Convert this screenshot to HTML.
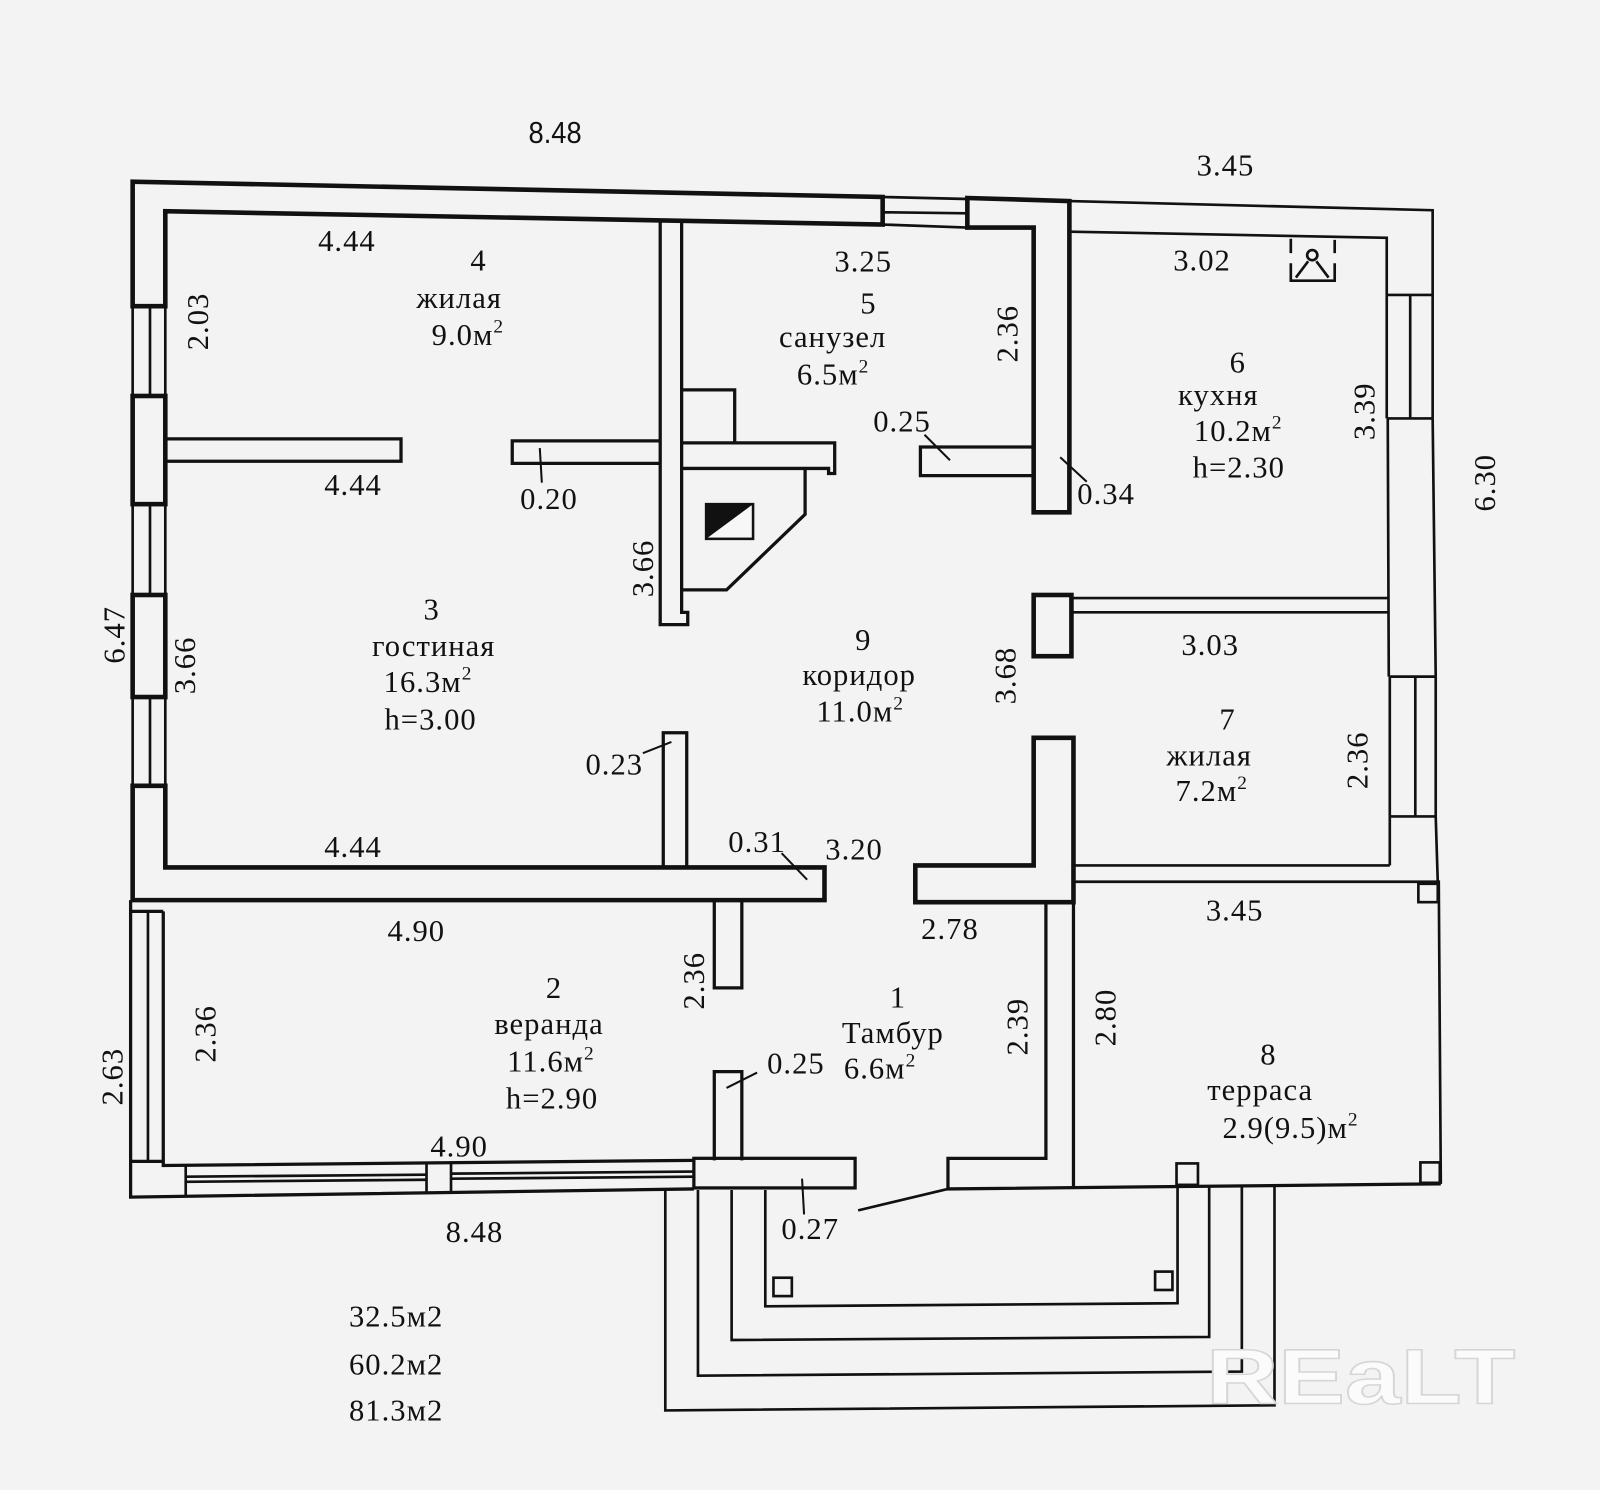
<!DOCTYPE html>
<html><head><meta charset="utf-8">
<style>
html,body{margin:0;padding:0;background:#f3f3f3;}
svg{display:block}
text{font-family:"Liberation Serif","DejaVu Serif",serif;font-size:30px;fill:#111;letter-spacing:1px}
</style></head><body>
<svg width="1600" height="1490" viewBox="0 0 1568 1460" preserveAspectRatio="none" xmlns="http://www.w3.org/2000/svg">
<rect width="1568" height="1460" fill="#f3f3f3"/>

<!-- thick walls -->
<g fill="none" stroke="#111" stroke-width="4.5" stroke-linejoin="miter">
  <path d="M130,300 L130,178 L865,193 L865,220 L162,207 L162,300 Z"/>
  <path d="M948,194 L1048,197 L1048,502 L1013,502 L1013,223 L948,223 Z"/>
  <rect x="130" y="388" width="32" height="106"/>
  <rect x="130" y="583" width="32" height="100"/>
  <path d="M130,770 L162,770 L162,850 L808,850 L808,882 L130,882 Z"/>
  <rect x="1013" y="583" width="37" height="60"/>
  <path d="M1013,723 L1052,723 L1052,884 L897,884 L897,848 L1013,848 Z"/>
</g>

<!-- medium walls / partitions -->
<g fill="none" stroke="#111" stroke-width="3.2" stroke-linejoin="miter">
  <path d="M647,217 L647,612 L674,612 L674,600 L668,600 L668,217"/>
  <path d="M162,430 L393,430 L393,452 L162,452"/>
  <path d="M647,432 L502,432 L502,454 L647,454"/>
  <path d="M1013,438 L902,438 L902,466 L1013,466"/>
  <path d="M668,382 L720,382 L720,434"/>
  <path d="M668,434 L818,434 L818,464 L812,464 L812,459 L668,459"/>
  <path d="M789,459 L789,504 L712,578 L668,578"/>
  <path d="M650,850 L650,718 L673,718 L673,850"/>
  <path d="M700,882 L700,968 L727,968 L727,882"/>
  <path d="M700,1137 L700,1050 L727,1050 L727,1137"/>
  <rect x="680" y="1135" width="158" height="29"/>
  <path d="M1025,884 L1025,1135 L929,1135 L929,1165 L1412,1160"/>
  <path d="M1052,864 L1052,1163"/>
  <!-- veranda -->
  <path d="M128,882 L128,1173 L680,1165"/>
  <path d="M160,893 L160,1142 L680,1137"/>
  <path d="M128,893 L160,893 M128,1138 L160,1138"/>
</g>

<!-- icon -->
<rect x="692" y="494" width="46" height="34" fill="#f7f7f7" stroke="#111" stroke-width="2.5"/>
<polygon points="692,494 738,494 692,528" fill="#111"/>

<!-- thin lines -->
<g fill="none" stroke="#111" stroke-width="2.6">
  <!-- top window -->
  <path d="M865,193 L948,195 M865,208 L948,209 M865,220 L948,223"/>
  <!-- left windows -->
  <path d="M147,300 L147,388 M147,494 L147,583 M147,683 L147,770"/>
  <path d="M130,300 L130,388 M162,300 L162,388"/>
  <path d="M130,494 L130,583 M162,494 L162,583 M130,683 L130,770 M162,683 L162,770"/>
  <!-- veranda windows -->
  <path d="M145,893 L145,1138"/>
  <path d="M182,1142 L182,1172"/>
  <path d="M182,1153 L418,1151 M182,1158 L418,1156 M442,1150 L680,1148 M442,1155 L680,1153"/>
  <path d="M418,1141 L418,1170 M442,1140 L442,1169"/>
  <!-- kitchen -->
  <path d="M1048,197 L1404,206 L1404,289"/>
  <path d="M1048,227 L1359,233 L1359,289"/>
  <path d="M1359,289 L1404,289 M1382,289 L1382,410 M1359,289 L1359,410 M1404,289 L1404,410 M1359,410 L1404,410"/>
  <path d="M1404,410 L1407,663 M1360,410 L1361,663 M1361,663 L1407,663"/>
  <path d="M1362,663 L1362,800 M1387,663 L1387,800 M1407,663 L1407,800 M1362,800 L1407,800"/>
  <path d="M1407,800 L1409,864 M1362,800 L1362,848"/>
  <path d="M1050,586 L1361,586 M1050,600 L1361,600"/>
  <path d="M1050,848 L1362,848"/>
  <!-- terrace -->
  <path d="M1052,864 L1410,864 L1412,1160"/>
  <rect x="1390" y="866" width="19" height="18"/>
  <rect x="1392" y="1139" width="19" height="20"/>
  <rect x="1153" y="1140" width="21" height="21"/>
  <!-- porch -->
  <path d="M652,1166 L652,1382 L1249,1377 L1249,1162"/>
  <path d="M684,1166 L684,1348 L1217,1344 L1217,1162"/>
  <path d="M717,1166 L717,1313 L1185,1310 L1185,1162"/>
  <path d="M750,1166 L750,1280 L1154,1277 L1154,1162"/>
  <rect x="758" y="1252" width="18" height="18"/>
  <rect x="1132" y="1246" width="17" height="18"/>
  <path d="M841,1186 L929,1165"/>
  <!-- kitchen stove symbol -->
  <path d="M1265,234 L1265,248 M1265,258 L1265,275 L1308,275 L1308,258 M1308,248 L1308,235"/>
  <circle cx="1286" cy="250" r="5"/>
  <path d="M1270,272 L1282,256 M1302,272 L1290,256"/>
</g>

<!-- leaders -->
<g fill="none" stroke="#111" stroke-width="2">
  <path d="M529,439 L531,473"/>
  <path d="M630,738 L658,727"/>
  <path d="M766,836 L791,862"/>
  <path d="M906,426 L931,451"/>
  <path d="M1039,448 L1065,472"/>
  <path d="M712,1066 L742,1051"/>
  <path d="M786,1155 L788,1190"/>
</g>

<!-- labels -->
<text x="544" y="140" text-anchor="middle" style="font-family:'Liberation Sans',sans-serif;letter-spacing:0" textLength="52" lengthAdjust="spacingAndGlyphs">8.48</text>
<text x="1201" y="172" text-anchor="middle">3.45</text>

<text x="340" y="246" text-anchor="middle">4.44</text>
<text x="469" y="265" text-anchor="middle">4</text>
<text x="450" y="302" text-anchor="middle">жилая</text>
<text x="423" y="338">9.0м<tspan font-size="19" dy="-12">2</tspan></text>

<text x="846" y="266" text-anchor="middle">3.25</text>
<text x="851" y="307" text-anchor="middle">5</text>
<text x="816" y="340" text-anchor="middle">санузел</text>
<text x="781" y="377">6.5м<tspan font-size="19" dy="-12">2</tspan></text>
<text x="884" y="423" text-anchor="middle">0.25</text>

<text x="1178" y="265" text-anchor="middle">3.02</text>
<text x="1213" y="365" text-anchor="middle">6</text>
<text x="1194" y="397" text-anchor="middle">кухня</text>
<text x="1170" y="432">10.2м<tspan font-size="19" dy="-12">2</tspan></text>
<text x="1214" y="468" text-anchor="middle">h=2.30</text>
<text x="1084" y="494" text-anchor="middle">0.34</text>

<text x="346" y="485" text-anchor="middle">4.44</text>
<text x="538" y="499" text-anchor="middle">0.20</text>

<text x="423" y="607" text-anchor="middle">3</text>
<text x="425" y="643" text-anchor="middle">гостиная</text>
<text x="376" y="678">16.3м<tspan font-size="19" dy="-12">2</tspan></text>
<text x="422" y="715" text-anchor="middle">h=3.00</text>

<text x="846" y="637" text-anchor="middle">9</text>
<text x="842" y="671" text-anchor="middle">коридор</text>
<text x="800" y="707">11.0м<tspan font-size="19" dy="-12">2</tspan></text>

<text x="1186" y="642" text-anchor="middle">3.03</text>
<text x="1203" y="715" text-anchor="middle">7</text>
<text x="1185" y="750" text-anchor="middle">жилая</text>
<text x="1152" y="785">7.2м<tspan font-size="19" dy="-12">2</tspan></text>

<text x="602" y="759" text-anchor="middle">0.23</text>
<text x="346" y="840" text-anchor="middle">4.44</text>
<text x="742" y="835" text-anchor="middle">0.31</text>
<text x="837" y="842" text-anchor="middle">3.20</text>

<text x="408" y="922" text-anchor="middle">4.90</text>
<text x="931" y="920" text-anchor="middle">2.78</text>
<text x="1210" y="902" text-anchor="middle">3.45</text>

<text x="543" y="978" text-anchor="middle">2</text>
<text x="538" y="1013" text-anchor="middle">веранда</text>
<text x="497" y="1050">11.6м<tspan font-size="19" dy="-12">2</tspan></text>
<text x="541" y="1086" text-anchor="middle">h=2.90</text>

<text x="880" y="987" text-anchor="middle">1</text>
<text x="875" y="1022" text-anchor="middle">Тамбур</text>
<text x="827" y="1057">6.6м<tspan font-size="19" dy="-12">2</tspan></text>
<text x="780" y="1052" text-anchor="middle">0.25</text>

<text x="1243" y="1043" text-anchor="middle">8</text>
<text x="1235" y="1078" text-anchor="middle">терраса</text>
<text x="1198" y="1115">2.9(9.5)м<tspan font-size="19" dy="-12">2</tspan></text>

<text x="450" y="1133" text-anchor="middle">4.90</text>
<text x="465" y="1217" text-anchor="middle">8.48</text>
<text x="794" y="1214" text-anchor="middle">0.27</text>

<text x="342" y="1300">32.5м2</text>
<text x="342" y="1347">60.2м2</text>
<text x="342" y="1392">81.3м2</text>

<!-- rotated labels -->
<text transform="translate(194,315) rotate(-90)" text-anchor="middle" dy="10">2.03</text>
<text transform="translate(987,327) rotate(-90)" text-anchor="middle" dy="10">2.36</text>
<text transform="translate(1337,403) rotate(-90)" text-anchor="middle" dy="10">3.39</text>
<text transform="translate(1455,473) rotate(-90)" text-anchor="middle" dy="10">6.30</text>
<text transform="translate(630,557) rotate(-90)" text-anchor="middle" dy="10">3.66</text>
<text transform="translate(112,622) rotate(-90)" text-anchor="middle" dy="10">6.47</text>
<text transform="translate(181,652) rotate(-90)" text-anchor="middle" dy="10">3.66</text>
<text transform="translate(985,662) rotate(-90)" text-anchor="middle" dy="10">3.68</text>
<text transform="translate(1330,745) rotate(-90)" text-anchor="middle" dy="10">2.36</text>
<text transform="translate(680,961) rotate(-90)" text-anchor="middle" dy="10">2.36</text>
<text transform="translate(997,1006) rotate(-90)" text-anchor="middle" dy="10">2.39</text>
<text transform="translate(1083,997) rotate(-90)" text-anchor="middle" dy="10">2.80</text>
<text transform="translate(201,1013) rotate(-90)" text-anchor="middle" dy="10">2.36</text>
<text transform="translate(110,1055) rotate(-90)" text-anchor="middle" dy="10">2.63</text>

<!-- watermark -->
<text x="1182" y="1375" style="font-family:'Liberation Sans',sans-serif;font-weight:bold;font-size:76px;letter-spacing:0;fill:#fbfbfb;stroke:#d6d6d6;stroke-width:1.5" textLength="303" lengthAdjust="spacingAndGlyphs">REaLT</text>
</svg>
</body></html>
